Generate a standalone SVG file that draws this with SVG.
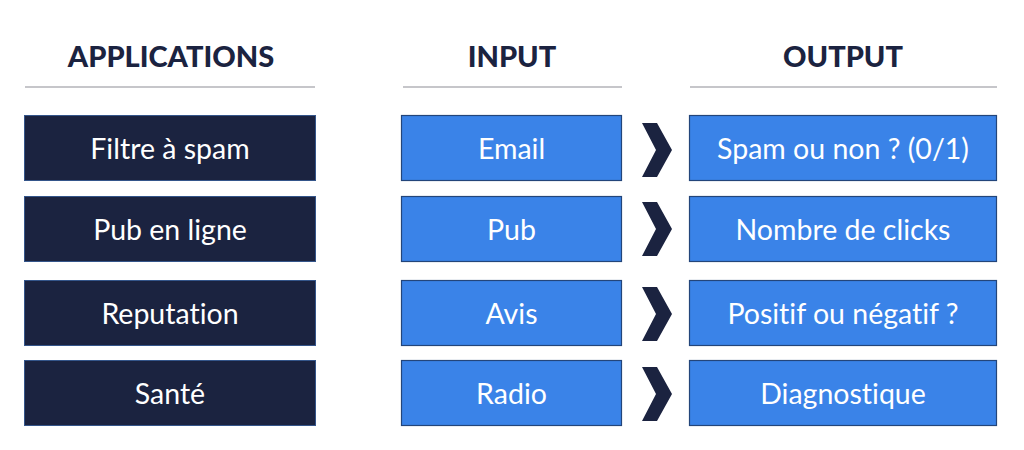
<svg xmlns="http://www.w3.org/2000/svg" width="1024" height="450" viewBox="0 0 1024 450">
<style>
.hdr{font-family:Lato,"Noto Sans",sans-serif;font-weight:900;font-size:29px;fill:#1b2340;text-anchor:middle}
.lbl{font-family:Lato,"Noto Sans",sans-serif;font-size:28.5px;fill:#ffffff;text-anchor:middle;dominant-baseline:central;font-variant-ligatures:none}
.app{fill:#1b2340;stroke:#34558a;stroke-width:1}
.blue{fill:#3a83e8;stroke:#23457a;stroke-width:1.2}
.rule{stroke:#8e8e96;stroke-width:1.2}
.chev{fill:#1b2340}
</style>
<rect width="1024" height="450" fill="#ffffff"/>
<g id="headers">
<text class="hdr" x="171" y="67">APPLICATIONS</text>
<text class="hdr" x="512" y="67">INPUT</text>
<text class="hdr" x="843" y="67">OUTPUT</text>
<line class="rule" x1="25" y1="87" x2="315" y2="87"/>
<line class="rule" x1="403" y1="87" x2="622" y2="87"/>
<line class="rule" x1="690" y1="87" x2="997" y2="87"/>
</g>
<g id="app1"><rect class="app" x="24.5" y="115.5" width="291" height="65"/><text class="lbl" x="170" y="148">Filtre à spam</text></g>
<g id="app2"><rect class="app" x="24.5" y="196.5" width="291" height="65"/><text class="lbl" x="170" y="229">Pub en ligne</text></g>
<g id="app3"><rect class="app" x="24.5" y="280.5" width="291" height="65"/><text class="lbl" x="170" y="313">Reputation</text></g>
<g id="app4"><rect class="app" x="24.5" y="360.5" width="291" height="65"/><text class="lbl" x="170" y="393">Santé</text></g>
<g id="in1"><rect class="blue" x="401.5" y="115.5" width="220" height="65"/><text class="lbl" x="511.5" y="148">Email</text></g>
<g id="in2"><rect class="blue" x="401.5" y="196.5" width="220" height="65"/><text class="lbl" x="511.5" y="229">Pub</text></g>
<g id="in3"><rect class="blue" x="401.5" y="280.5" width="220" height="65"/><text class="lbl" x="511.5" y="313">Avis</text></g>
<g id="in4"><rect class="blue" x="401.5" y="360.5" width="220" height="65"/><text class="lbl" x="511.5" y="393">Radio</text></g>
<g id="out1"><rect class="blue" x="689.5" y="115.5" width="307" height="65"/><text class="lbl" x="843" y="148">Spam ou non ? (0/1)</text></g>
<g id="out2"><rect class="blue" x="689.5" y="196.5" width="307" height="65"/><text class="lbl" x="843" y="229">Nombre de clicks</text></g>
<g id="out3"><rect class="blue" x="689.5" y="280.5" width="307" height="65"/><text class="lbl" x="843" y="313">Positif ou négatif ?</text></g>
<g id="out4"><rect class="blue" x="689.5" y="360.5" width="307" height="65"/><text class="lbl" x="843" y="393">Diagnostique</text></g>
<g id="connectors">
<polygon class="chev" points="642,123 657,123 672,150 657,177 642,177 656,150"/>
<polygon class="chev" points="642,202 657,202 672,229 657,256 642,256 656,229"/>
<polygon class="chev" points="642,287 657,287 672,314 657,341 642,341 656,314"/>
<polygon class="chev" points="642,367 657,367 672,394 657,421 642,421 656,394"/>
</g>
</svg>
